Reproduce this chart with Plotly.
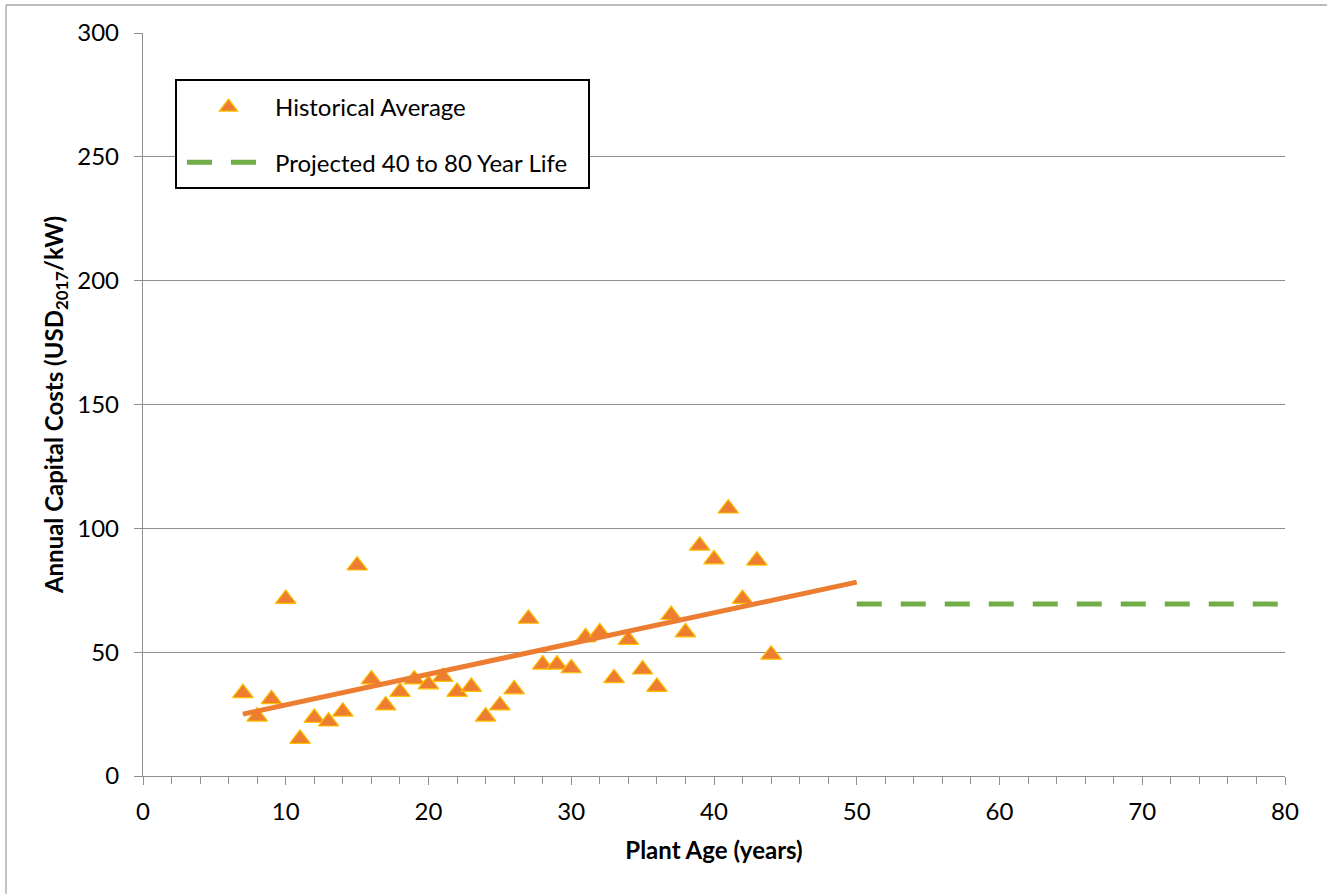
import plotly.graph_objects as go

# ---- data ----
plant_age = [7, 8, 9, 10, 11, 12, 13, 14, 15, 16, 17, 18, 19, 20, 21, 22, 23, 24, 25, 26,
             27, 28, 29, 30, 31, 32, 33, 34, 35, 36, 37, 38, 39, 40, 41, 42, 43, 44]
hist_avg = [33.5, 24, 31, 71.5, 15, 23.5, 22, 26, 85, 39, 28.5, 34, 39, 37, 40, 34, 36, 24, 28.5, 35,
            63.5, 45, 45, 43.5, 56, 58, 39.5, 55, 43, 36, 65, 58, 93, 87.5, 108, 71.5, 87, 49]
trend_x = [7, 50]
trend_y = [25.0, 78.3]
proj_x = [50, 80]
proj_y = [69.4, 69.4]
x_ticks = [0, 10, 20, 30, 40, 50, 60, 70, 80]
y_ticks = [0, 50, 100, 150, 200, 250, 300]

FONT = "Lato"
GRID = "#8f8f8f"

fig = go.Figure()

fig.add_trace(go.Scatter(
    x=plant_age, y=hist_avg, mode="markers", name="Historical Average",
    legendgroup="a", legendrank=1,
    marker=dict(symbol="triangle-up", size=18, color="#ED7D31",
                line=dict(color="#FFC000", width=1.2)),
))
fig.add_trace(go.Scatter(
    x=trend_x, y=trend_y, mode="lines", showlegend=False,
    line=dict(color="#ED7D31", width=5),
))
fig.add_trace(go.Scatter(
    x=proj_x, y=proj_y, mode="lines", name="Projected 40 to 80 Year Life",
    legendgroup="b", legendrank=2,
    line=dict(color="#70AD47", width=5, dash="25px,19px"),
))

L, R, T, B = 143, 42, 33, 118
W, H = 1327, 894
pw, ph = W - L - R, H - T - B

def px_x(p):
    return (p - L) / pw

def px_y(p):
    return (H - B - p) / ph

fig.update_layout(
    width=W, height=H,
    margin=dict(l=L, r=R, t=T, b=B, autoexpand=False),
    paper_bgcolor="white", plot_bgcolor="white",
    font=dict(family=FONT, size=24, color="#000"),
    showlegend=True,
    legend=dict(
        x=px_x(182), y=px_y(85), xanchor="left", yanchor="top",
        bgcolor="rgba(0,0,0,0)", borderwidth=0,
        font=dict(family=FONT, size=24, color="#000"),
        itemwidth=83, tracegroupgap=21, traceorder="grouped",
    ),
    xaxis=dict(
        range=[0, 80], tickvals=x_ticks, showgrid=False, zeroline=False,
        showline=True, linecolor=GRID, linewidth=1.3,
        ticks="outside", ticklen=8, tickcolor=GRID, tickwidth=1.3,
        minor=dict(dtick=2, ticks="outside", ticklen=7, tickcolor=GRID, tickwidth=1.3),
        tickfont=dict(family=FONT, size=24, color="#000"),
        ticklabelstandoff=6,
        title=dict(text="<b>Plant Age (years)</b>", font=dict(family=FONT, size=24, color="#000"),
                   standoff=18),
    ),
    yaxis=dict(
        range=[0, 300], tickvals=y_ticks, showgrid=True, gridcolor=GRID, gridwidth=1,
        zeroline=False, showline=True, linecolor=GRID, linewidth=1.3,
        ticks="outside", ticklen=8, tickcolor=GRID, tickwidth=1.3,
        tickfont=dict(family=FONT, size=24, color="#000"),
        ticklabelstandoff=10,
        title=dict(text="<b>Annual Capital Costs (USD<sub>2017</sub>/kW)</b>",
                   font=dict(family=FONT, size=24, color="#000"), standoff=6),
    ),
    shapes=[
        # legend box
        dict(type="rect", xref="paper", yref="paper",
             x0=px_x(176), x1=px_x(589), y0=px_y(188), y1=px_y(80),
             line=dict(color="#000", width=2), fillcolor="white", layer="above"),
        # outer chart frame (only left and top edges are inside the picture)
        dict(type="line", xref="paper", yref="paper",
             x0=px_x(6), x1=px_x(6), y0=px_y(900), y1=px_y(5),
             line=dict(color="#a6a6a6", width=1.3)),
        dict(type="line", xref="paper", yref="paper",
             x0=px_x(6), x1=px_x(1330), y0=px_y(5), y1=px_y(5),
             line=dict(color="#a6a6a6", width=1.3)),
    ],
)

fig.write_html("out.html", config={"displayModeBar": False},
               post_script="document.body.style.margin='0';document.body.style.overflow='hidden';")
